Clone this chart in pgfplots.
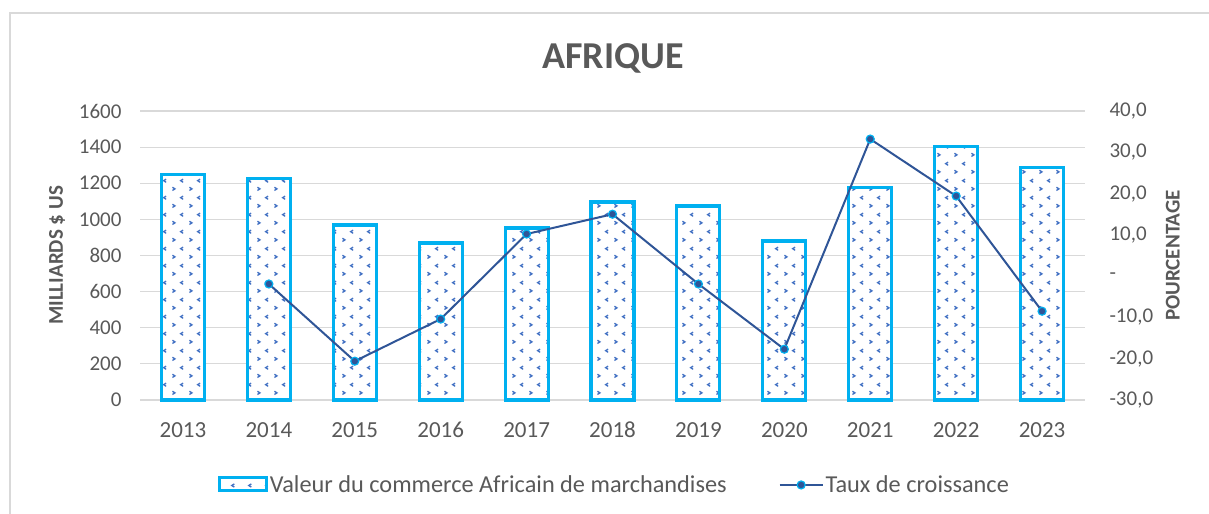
\documentclass[border=0pt]{standalone}
\usepackage{fontspec}
\setmainfont{Carlito}
\usepackage{pgfplots}
\pgfplotsset{compat=1.18}
\usetikzlibrary{patterns}
\definecolor{txt}{RGB}{89,89,89}
\definecolor{barcyan}{RGB}{0,176,240}
\definecolor{patblue}{RGB}{68,114,196}
\definecolor{linblue}{RGB}{47,85,151}
\definecolor{gridg}{RGB}{217,217,217}

\pgfdeclarepatternformonly{chev}{\pgfpoint{0bp}{0bp}}{\pgfpoint{17bp}{16.7bp}}{\pgfpoint{17bp}{16.7bp}}{
  \pgfsetlinewidth{1.4bp}
  \pgfpathmoveto{\pgfpoint{2.6bp}{5.8bp}}\pgfpathlineto{\pgfpoint{5.2bp}{4.2bp}}\pgfpathlineto{\pgfpoint{2.6bp}{2.6bp}}
  \pgfpathmoveto{\pgfpoint{13.9bp}{14.1bp}}\pgfpathlineto{\pgfpoint{11.3bp}{12.5bp}}\pgfpathlineto{\pgfpoint{13.9bp}{10.9bp}}
  \pgfusepath{stroke}
}

\pgfplotsset{
  mylineleg/.style={legend image code/.code={\draw[mark repeat=2, mark phase=2, ##1] plot coordinates {(0bp,0bp) (21.5bp,0bp) (43bp,0bp)};}},
}

\pgfplotstableread{
x val
0 1246
1 1224
2 969
3 869
4 952
5 1096
6 1074
7 880
8 1174
9 1401
10 1285
}\bars

\pgfplotstableread{
x g
1 -1.9
2 -20.6
3 -10.4
4 10.2
5 15.0
6 -1.9
7 -17.7
8 33.2
9 19.4
10 -8.5
}\growth

\newcommand{\fs}[1]{\fontsize{#1bp}{#1bp}\selectfont}

\begin{document}
\begin{tikzpicture}[x=1bp,y=1bp]
\path[use as bounding box] (0,0) rectangle (1209,514);
\draw[gridg, line width=1.5bp] (10,-5) -- (10,501) -- (1215,501);
\node[anchor=base, text=txt, font=\fs{38}\bfseries] at (613,445) {AFRIQUE};

\begin{axis}[
  at={(140bp,114bp)}, anchor=south west,
  scale only axis, width=945bp, height=289bp,
  xmin=-0.5, xmax=10.5, ymin=0, ymax=1600,
  xtick={0,...,10},
  xticklabels={2013,2014,2015,2016,2017,2018,2019,2020,2021,2022,2023},
  ytick={0,200,...,1600},
  axis x line*=bottom, axis y line*=left,
  x axis line style={draw=gridg, line width=1.2bp, -},
  y axis line style={draw=none},
  major tick length=0pt,
  ymajorgrids, grid style={gridg, line width=1.2bp},
  /pgf/number format/assume math mode=true,
  /pgf/number format/1000 sep={},
  yticklabel style={font=\fs{21}, text=txt, xshift=-15bp},
  xticklabel style={font=\fs{23}, text=txt, anchor=base, yshift=-38bp},
  clip=false,
]
\addplot[ybar, bar width=0.5, draw=barcyan, line width=3.1bp, fill=white, postaction={pattern=chev, pattern color=patblue}] table[x=x, y=val] {\bars};
\node[rotate=90, anchor=center, font=\fs{21}\bfseries, text=txt] at (axis description cs:-0.0878,0.5) {MILLIARDS \$ US};
\end{axis}

\begin{axis}[
  at={(140bp,114bp)}, anchor=south west,
  scale only axis, width=945bp, height=289bp,
  xmin=-0.5, xmax=10.5, ymin=-30, ymax=40,
  axis x line=none, axis y line*=right,
  y axis line style={draw=none},
  major tick length=0pt,
  ytick={-30,-20,...,40},
  yticklabels={{-30,0},{-20,0},{-10,0},{-},{10,0},{20,0},{30,0},{40,0}},
  yticklabel style={font=\fs{21}, text=txt, anchor=west, xshift=21bp},
  clip=false,
  legend columns=2,
  legend style={draw=none, fill=none, at={(axis description cs:0.502,-0.294)}, anchor=center,
    font=\fs{24.3}, text=txt,
    /tikz/every even column/.append style={column sep=50bp},
    inner sep=0pt},
  legend cell align=left,
]
\addlegendimage{legend image code/.code={\draw[draw=barcyan, line width=3bp, fill=white, postaction={pattern=chev, pattern color=patblue}] (0bp,-6bp) rectangle (47bp,7bp);}}
\addlegendentry{Valeur du commerce Africain de marchandises}
\addplot[linblue, line width=2bp, mark=*, mark size=4bp, mark options={fill=linblue, draw=barcyan, line width=1.2bp}, mylineleg]
  table[x=x, y=g] {\growth};
\addlegendentry{Taux de croissance}
\node[rotate=90, anchor=center, font=\fs{21}\bfseries, text=txt] at (axis description cs:1.093,0.5) {POURCENTAGE};
\end{axis}
\end{tikzpicture}
\end{document}
